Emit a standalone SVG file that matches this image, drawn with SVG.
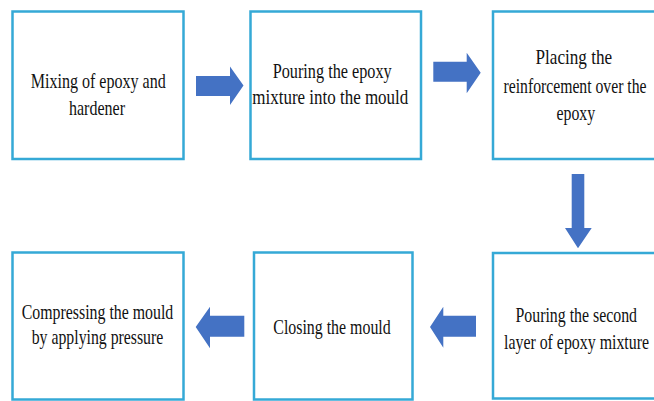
<svg xmlns="http://www.w3.org/2000/svg" width="654" height="401" viewBox="0 0 654 401">
<style>
.box{fill:#ffffff;stroke:#35a9d6;stroke-width:2.5}
.t{font-family:"Liberation Serif","Times New Roman",serif;font-size:22px;fill:#111111}
.arr{fill:#4472c4}
</style>
<rect width="654" height="401" fill="#ffffff"/>
<g id="n1">
<rect class="box" x="12.5" y="11.5" width="171" height="147.5"/>
<text class="t" x="30.7" y="87.5" textLength="135" lengthAdjust="spacingAndGlyphs">Mixing of epoxy and</text>
<text class="t" x="69" y="115" textLength="56" lengthAdjust="spacingAndGlyphs">hardener</text>
</g>
<g id="n2">
<rect class="box" x="250.5" y="11.5" width="170.5" height="147.5"/>
<text class="t" x="272.7" y="77.5" textLength="119" lengthAdjust="spacingAndGlyphs">Pouring the epoxy</text>
<text class="t" x="252.3" y="104" textLength="156" lengthAdjust="spacingAndGlyphs">mixture into the mould</text>
</g>
<g id="n3">
<rect class="box" x="493" y="11.5" width="170" height="147.5"/>
<text class="t" x="535.5" y="64" textLength="76.6" lengthAdjust="spacingAndGlyphs">Placing the</text>
<text class="t" x="503.5" y="93" textLength="143" lengthAdjust="spacingAndGlyphs">reinforcement over the</text>
<text class="t" x="556.5" y="120" textLength="38.7" lengthAdjust="spacingAndGlyphs">epoxy</text>
</g>
<g id="n4">
<rect class="box" x="493" y="253" width="170" height="145.5"/>
<text class="t" x="515.5" y="322" textLength="121.5" lengthAdjust="spacingAndGlyphs">Pouring the second</text>
<text class="t" x="504" y="349" textLength="145" lengthAdjust="spacingAndGlyphs">layer of epoxy mixture</text>
</g>
<g id="n5">
<rect class="box" x="254" y="252.5" width="158.5" height="147"/>
<text class="t" x="273.3" y="334" textLength="117.4" lengthAdjust="spacingAndGlyphs">Closing the mould</text>
</g>
<g id="n6">
<rect class="box" x="12.5" y="252.5" width="171" height="147"/>
<text class="t" x="21.7" y="319" textLength="151.6" lengthAdjust="spacingAndGlyphs">Compressing the mould</text>
<text class="t" x="31.7" y="344" textLength="131.6" lengthAdjust="spacingAndGlyphs">by applying pressure</text>
</g>
<g id="connectors">
<polygon class="arr" points="196,76 230,76 230,66.5 243.5,85.5 230,105 230,96 196,96"/>
<polygon class="arr" points="433.3,61.7 466.7,61.7 466.7,52.7 480.7,72.7 466.7,93.3 466.7,81.7 433.3,81.7"/>
<polygon class="arr" points="571.7,174 584.3,174 584.3,228 591.7,228 578,248.3 565,228 571.7,228"/>
<polygon class="arr" points="476,315.7 443.3,315.7 443.3,306.7 430,327 443.3,347.7 443.3,336.7 476,336.7"/>
<polygon class="arr" points="244.3,315.7 210,315.7 210,306.7 195.7,327 210,348.3 210,336.7 244.3,336.7"/>
</g>
</svg>
